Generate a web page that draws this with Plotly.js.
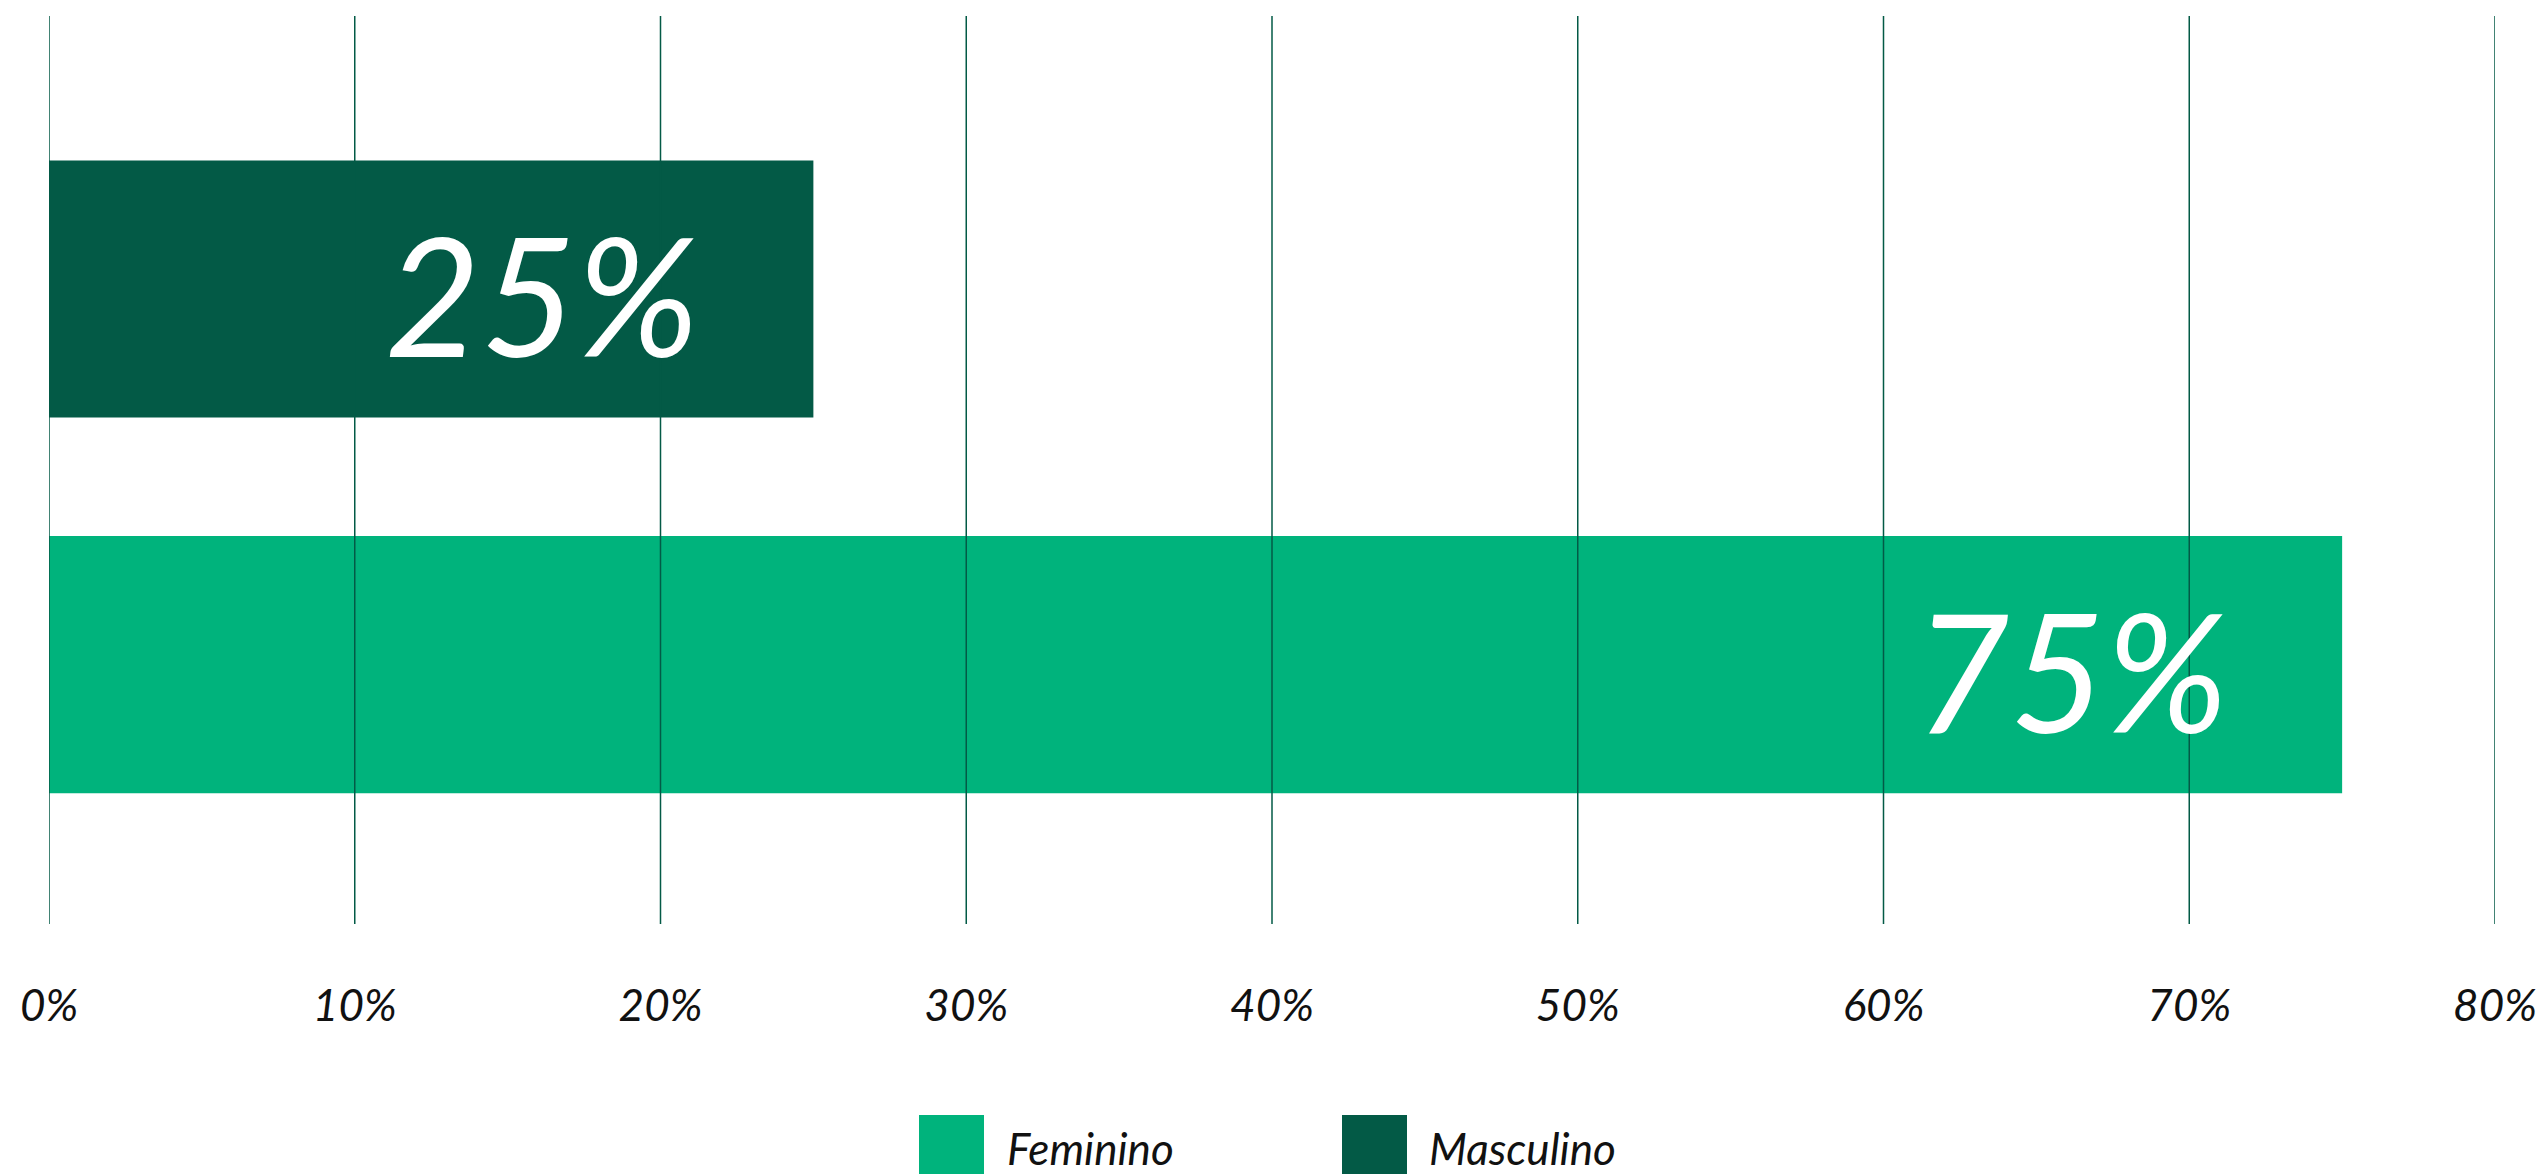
<!DOCTYPE html>
<html lang="pt">
<head>
<meta charset="utf-8">
<title>Distribuição por sexo</title>
<script src="https://cdn.plot.ly/plotly-3.0.1.min.js"></script>
<style>
  html, body { margin: 0; padding: 0; background: #ffffff; }
  #chart { width: 2542px; height: 1174px; }
</style>
</head>
<body>
<div id="chart"></div>
<script>
// Data
const categories = ['Feminino', 'Masculino'];
const values = [75, 25];
const tickValues = [0, 10, 20, 30, 40, 50, 60, 70, 80];
const tickLabels = ['0%', '10%', '20%', '30%', '40%', '50%', '60%', '70%', '80%'];

// Styles
const colors = { Feminino: '#00B37C', Masculino: '#035A46' };
const gridColor = '#035A46';
const fontFamily = 'Lato, "Noto Sans", sans-serif';

const W = 2542, H = 1174;
const margin = { l: 49, r: 47, t: 16, b: 250 };
const plotW = W - margin.l - margin.r;
const plotH = H - margin.t - margin.b;
const px2x = px => (px - margin.l) / plotW;
const px2y = py => (H - margin.b - py) / plotH;

const traces = categories.map((cat, i) => ({
  type: 'bar',
  orientation: 'h',
  name: cat,
  y: [cat],
  x: [values[i]],
  width: 0.685,
  marker: { color: colors[cat], line: { width: 0 } },
  hoverinfo: 'skip',
  showlegend: false
}));

// Vertical grid lines drawn above the bars
const gridShapes = tickValues.map(v => ({
  type: 'line', layer: 'above',
  xref: 'x', yref: 'paper',
  x0: v, x1: v, y0: 0, y1: 1,
  line: { color: gridColor, width: 1.5 }
}));

// Legend: large swatches plus italic labels below the axis
const legendItems = [
  { name: 'Feminino', sx: 919, tx: 1005 },
  { name: 'Masculino', sx: 1342, tx: 1427 }
];
const legendShapes = legendItems.map(it => ({
  type: 'rect', layer: 'above',
  xref: 'paper', yref: 'paper',
  x0: px2x(it.sx), x1: px2x(it.sx + 65),
  y0: px2y(1115), y1: px2y(1180),
  fillcolor: colors[it.name], line: { width: 0 }
}));
const legendLabels = legendItems.map(it => ({
  xref: 'paper', yref: 'paper',
  x: px2x(it.tx), y: px2y(1148),
  xanchor: 'left', yanchor: 'middle',
  text: it.name, showarrow: false,
  font: { family: fontFamily, size: 44, color: '#111111', style: 'italic' }
}));

// Value labels inside the bars
const valueLabels = categories.map((cat, i) => ({
  xref: 'x', yref: 'y',
  x: values[i], y: cat,
  xanchor: 'right', yanchor: 'middle',
  xshift: -112, yshift: -4,
  text: values[i] + '%', showarrow: false,
  font: { family: fontFamily, size: 165, color: '#ffffff', style: 'italic' }
}));

const layout = {
  width: W, height: H,
  margin: margin,
  paper_bgcolor: '#ffffff',
  plot_bgcolor: '#ffffff',
  barmode: 'overlay',
  showlegend: false,
  xaxis: {
    range: [0, 80],
    tickvals: tickValues,
    ticktext: tickLabels,
    showgrid: false,
    zeroline: false,
    showline: false,
    ticks: '',
    ticklabelstandoff: 52,
    tickfont: { family: fontFamily, size: 44, color: '#111111', style: 'italic' },
    fixedrange: true
  },
  yaxis: {
    type: 'category',
    categoryorder: 'array',
    categoryarray: categories,
    range: [-0.691, 1.727],
    showticklabels: false,
    showgrid: false,
    zeroline: false,
    showline: false,
    ticks: '',
    fixedrange: true
  },
  shapes: gridShapes.concat(legendShapes),
  annotations: valueLabels.concat(legendLabels)
};

Plotly.newPlot('chart', traces, layout, { displayModeBar: false, staticPlot: true });
</script>
</body>
</html>
